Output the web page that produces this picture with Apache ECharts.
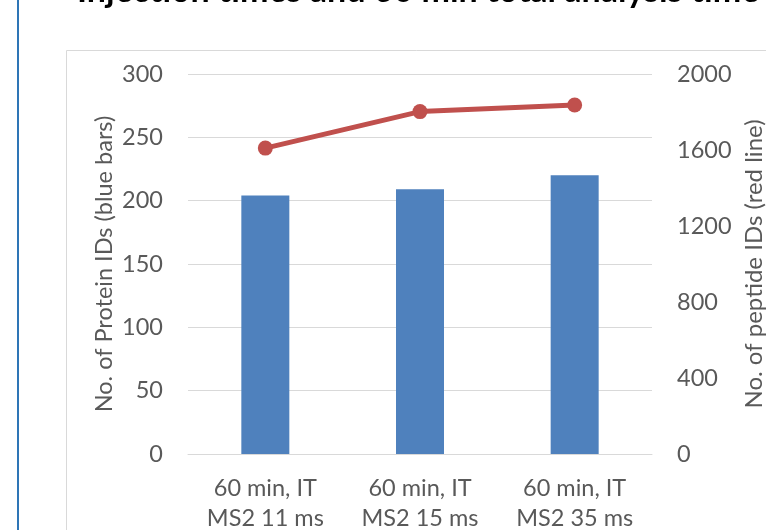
<!DOCTYPE html>
<html>
<head>
<meta charset="utf-8">
<script src="https://cdn.jsdelivr.net/npm/echarts@6/dist/echarts.min.js"></script>
<style>
  html, body { margin: 0; padding: 0; background: #fff; }
  #chart { width: 766px; height: 530px; }
</style>
</head>
<body>
<div id="chart"></div>
<script>
// Data
const categories = ['60 min, IT\nMS2 11 ms', '60 min, IT\nMS2 15 ms', '60 min, IT\nMS2 35 ms'];
const proteinIds = [204, 209, 220];
const peptideIds = [1610, 1802, 1837];
const chartTitle = 'Injection times and 60 min total analysis time';

const chart = echarts.init(document.getElementById('chart'));
const font = 'Lato, "Open Sans", sans-serif';
const labelSize = 23.5;

const option = {
  animation: false,
  title: {
    text: chartTitle,
    left: 72,
    top: -31,
    textStyle: { fontFamily: font, fontSize: 34, fontWeight: 'bold', color: '#000' }
  },
  graphic: [
    // blue border line at the left edge
    { type: 'rect', shape: { x: 17, y: -5, width: 2, height: 540 }, style: { fill: '#2E75B6' } },
    // plot frame
    { type: 'rect', shape: { x: 66.5, y: 50.5, width: 760, height: 520 }, style: { fill: 'none', stroke: '#D9D9D9', lineWidth: 1 } }
  ],
  grid: { left: 188, right: 114, top: 74, bottom: 76, outerBoundsMode: 'none' },
  xAxis: {
    type: 'category',
    data: categories,
    axisLine: { lineStyle: { color: '#D9D9D9' } },
    axisTick: { show: false },
    axisLabel: { fontFamily: font, fontSize: labelSize, color: '#595959', lineHeight: 30, margin: 19, interval: 0 }
  },
  yAxis: [
    {
      type: 'value',
      min: 0, max: 300, interval: 50,
      name: 'No. of Protein IDs (blue bars)',
      nameLocation: 'middle',
      nameGap: 72,
      nameMoveOverlap: false,
      nameTextStyle: { fontFamily: font, fontSize: labelSize, color: '#595959' },
      axisLine: { show: false },
      axisTick: { show: false },
      axisLabel: { fontFamily: font, fontSize: labelSize, color: '#595959', margin: 25 },
      splitLine: { lineStyle: { color: '#D9D9D9' } }
    },
    {
      type: 'value',
      min: 0, max: 2000, interval: 400,
      name: 'No. of peptide IDs (red line)',
      nameLocation: 'middle',
      nameGap: 84,
      nameTextStyle: { fontFamily: font, fontSize: 24, color: '#595959' },
      axisLine: { show: false },
      axisTick: { show: false },
      axisLabel: { fontFamily: font, fontSize: labelSize, color: '#595959', margin: 25, formatter: v => String(v) },
      splitLine: { show: false }
    }
  ],
  series: [
    {
      name: 'Protein IDs',
      type: 'bar',
      data: proteinIds,
      barWidth: 48,
      itemStyle: { color: '#4F81BD' }
    },
    {
      name: 'Peptide IDs',
      type: 'line',
      yAxisIndex: 1,
      data: peptideIds,
      symbol: 'circle',
      symbolSize: 15,
      lineStyle: { color: '#C0504D', width: 5 },
      itemStyle: { color: '#C0504D' }
    }
  ]
};

chart.setOption(option);
</script>
</body>
</html>
